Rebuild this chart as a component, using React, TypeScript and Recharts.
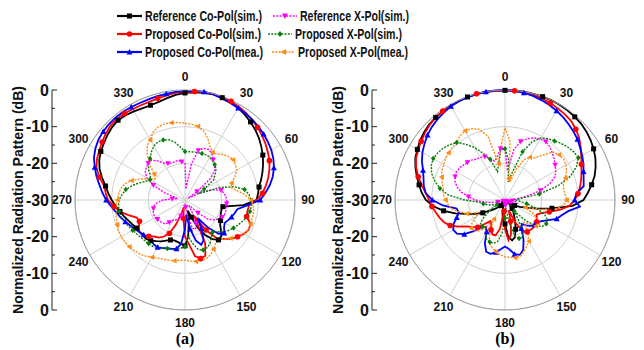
import React from 'react';
import { RadarChart, Radar, PolarGrid, PolarAngleAxis, PolarRadiusAxis, LineChart, Line, XAxis, YAxis } from 'recharts';

// angle (deg, clockwise from top)
const angles = [
  0, 5, 10, 15, 20, 25, 30, 35, 40, 45, 50, 55,
  60, 65, 70, 75, 80, 85, 90, 95, 100, 105, 110, 115,
  120, 125, 130, 135, 140, 145, 150, 155, 160, 165, 170, 175,
  180, 185, 190, 195, 200, 205, 210, 215, 220, 225, 230, 235,
  240, 245, 250, 255, 260, 265, 270, 275, 280, 285, 290, 295,
  300, 305, 310, 315, 320, 325, 330, 335, 340, 345, 350, 355,
];

// (a)
const aRefCo = [
  -0.8, -0.5, -0.3, -0.2, -0.3, -0.6, -1.0, -1.6, -2.2, -2.9, -3.7, -4.6,
  -5.5, -6.5, -7.5, -8.5, -9.5, -10.0, -10.5, -14.0, -19.5, -19.7, -19.6, -19.3,
  -18.8, -18.3, -17.2, -16.0, -15.8, -17.0, -19.0, -21.5, -25.0, -27.0, -24.0, -20.0,
  -17.5, -18.0, -18.4, -18.6, -18.4, -17.8, -17.0, -16.3, -15.5, -15.0, -15.0, -14.9,
  -14.7, -14.2, -13.6, -12.8, -12.0, -11.0, -10.0, -9.0, -8.0, -6.6, -5.2, -4.2,
  -3.5, -3.0, -2.4, -1.9, -1.6, -1.8, -2.1, -2.4, -2.5, -2.3, -1.8, -1.2,
];
const aPropCo = [
  -0.5, -0.3, -0.1, 0, -0.1, -0.3, -0.6, -1.0, -1.5, -2.0, -2.6, -3.2,
  -3.9, -4.6, -5.5, -6.5, -7.6, -8.8, -10.5, -12.5, -12.7, -12.6, -11.0, -10.8,
  -11.5, -12.5, -13.5, -15.0, -16.0, -20.0, -25.0, -17.0, -13.8, -13.5, -14.5, -18.0,
  -20.0, -25.0, -28.0, -26.0, -23.0, -20.0, -18.5, -17.5, -17.0, -16.0, -15.0, -14.8,
  -15.5, -16.3, -16.0, -14.0, -12.0, -10.5, -9.0, -8.3, -7.6, -5.8, -4.3, -3.5,
  -3.0, -2.4, -1.8, -1.3, -1.1, -1.2, -1.4, -1.5, -1.5, -1.3, -1.0, -0.7,
];
const aPropCoMea = [
  -0.3, -0.1, 0, -0.2, -0.5, -0.8, -1.0, -1.2, -1.4, -1.7, -2.0, -2.4,
  -2.8, -3.4, -4.2, -5.2, -6.5, -8.0, -9.5, -13.0, -15.5, -16.0, -16.5, -17.0,
  -17.5, -17.0, -16.0, -17.0, -20.0, -24.0, -21.0, -18.0, -17.0, -18.5, -22.0, -26.0,
  -22.0, -18.0, -16.5, -16.2, -16.0, -15.5, -15.1, -15.2, -15.5, -15.6, -15.3, -14.8,
  -14.2, -13.5, -12.7, -11.8, -10.9, -9.8, -8.5, -7.4, -6.3, -5.0, -3.8, -2.6,
  -1.8, -1.2, -0.9, -0.7, -0.6, -0.6, -0.7, -0.8, -0.8, -0.7, -0.6, -0.4,
];
const aRefX = [
  -20.0, -27.0, -20.0, -16.0, -15.0, -14.8, -15.3, -16.6, -17.5, -18.5, -21.0, -26.0,
  -29.0, -25.0, -21.8, -19.8, -19.2, -18.8, -18.6, -18.6, -18.6, -18.5, -18.5, -18.8,
  -19.5, -20.5, -22.0, -25.0, -28.0, -28.0, -26.0, -23.0, -21.5, -22.0, -25.0, -28.0,
  -29.0, -28.0, -27.0, -25.5, -24.5, -24.0, -23.7, -22.5, -21.5, -21.2, -21.0, -20.8,
  -20.6, -20.6, -20.8, -21.1, -21.5, -22.5, -24.0, -26.5, -28.0, -27.0, -24.0, -20.5,
  -18.0, -16.8, -16.2, -15.8, -15.8, -17.0, -18.4, -19.0, -19.3, -19.2, -19.0, -19.5,
];
const aPropX = [
  -16.8, -16.8, -16.7, -16.6, -16.5, -16.4, -16.5, -17.0, -17.4, -18.0, -19.3, -20.5,
  -24.0, -26.0, -20.0, -16.0, -13.5, -12.5, -12.0, -11.8, -12.0, -12.5, -13.2, -14.0,
  -14.7, -15.5, -16.5, -17.8, -18.4, -17.5, -16.3, -15.7, -15.5, -16.0, -18.0, -20.0,
  -17.3, -16.8, -16.3, -16.0, -15.9, -15.5, -15.0, -14.6, -14.5, -14.4, -14.2, -13.9,
  -13.5, -13.0, -12.5, -12.0, -11.8, -11.8, -12.0, -12.8, -13.6, -15.0, -16.5, -18.0,
  -19.0, -18.5, -17.0, -16.0, -15.2, -14.0, -13.0, -12.5, -12.6, -13.0, -14.0, -15.5,
];
const aPropXMea = [
  -9.1, -9.3, -9.6, -10.5, -12.0, -13.8, -15.0, -14.7, -13.8, -13.2, -12.9, -13.2,
  -13.7, -15.0, -16.5, -17.0, -15.5, -13.5, -12.0, -11.3, -11.0, -11.0, -11.0, -10.8,
  -11.5, -12.5, -13.8, -15.0, -16.0, -15.5, -14.5, -13.5, -13.0, -12.8, -13.0, -13.3,
  -13.6, -13.5, -13.2, -13.0, -12.8, -12.5, -12.0, -11.3, -10.8, -10.5, -10.2, -10.0,
  -9.9, -10.0, -10.3, -10.6, -10.9, -11.2, -11.5, -11.8, -12.2, -13.0, -14.5, -16.5,
  -18.5, -20.0, -19.0, -16.5, -14.0, -12.0, -11.0, -9.5, -8.8, -8.5, -8.6, -8.8,
];

// (b)
const bRefCo = [
  -0.1, 0, 0, 0, 0, 0, -0.1, -0.2, -0.4, -0.6, -1.0, -1.5,
  -2.1, -2.8, -3.7, -4.7, -6.0, -7.3, -8.6, -11.5, -17.0, -21.0, -24.0, -25.5,
  -27.0, -28.0, -28.5, -28.0, -27.0, -26.0, -25.0, -23.5, -21.5, -19.5, -18.8, -20.0,
  -23.5, -24.5, -26.0, -28.0, -29.0, -29.0, -29.0, -28.5, -28.0, -27.0, -26.0, -25.0,
  -23.0, -21.0, -19.0, -16.0, -13.0, -10.4, -8.4, -7.2, -6.2, -5.1, -4.0, -3.0,
  -2.4, -1.7, -1.2, -0.8, -0.6, -0.4, -0.3, -0.2, -0.1, -0.1, -0.1, -0.1,
];
const bPropCo = [
  -0.2, -0.1, -0.2, -0.3, -0.5, -0.8, -1.2, -1.5, -1.9, -2.7, -3.6, -4.8,
  -6.0, -7.0, -7.8, -8.5, -9.2, -10.0, -11.0, -12.3, -14.7, -17.5, -19.5, -20.5,
  -20.0, -19.5, -19.3, -19.2, -19.3, -19.4, -20.0, -23.0, -27.0, -24.0, -20.5, -19.0,
  -22.0, -27.0, -22.0, -20.0, -20.0, -21.0, -22.5, -23.0, -21.5, -19.5, -18.5, -17.5,
  -15.5, -13.5, -12.3, -11.5, -10.8, -10.0, -9.3, -8.3, -7.0, -5.5, -4.2, -3.2,
  -2.7, -2.1, -1.5, -1.0, -0.6, -0.4, -0.3, -0.2, -0.1, 0, 0, -0.1,
];
const bPropCoMea = [
  0, -0.1, -0.3, -0.6, -1.0, -1.4, -1.9, -2.4, -3.0, -3.6, -4.2, -5.0,
  -5.7, -6.4, -7.2, -7.8, -8.2, -10.5, -11.0, -9.5, -12.5, -14.0, -15.0, -17.0,
  -18.5, -19.3, -19.5, -20.0, -21.0, -22.0, -21.0, -18.0, -15.5, -14.5, -15.0, -16.5,
  -17.3, -16.5, -15.5, -14.8, -15.0, -17.0, -20.0, -21.0, -20.5, -18.0, -15.5, -14.0,
  -13.7, -14.5, -16.0, -17.0, -16.6, -13.0, -10.2, -8.3, -7.5, -7.0, -6.2, -5.0,
  -4.0, -3.2, -2.4, -1.8, -1.3, -0.9, -0.5, -0.3, -0.2, -0.1, 0, 0,
];
const bRefX = [
  -16.0, -22.0, -16.0, -13.5, -12.2, -11.3, -10.8, -10.6, -11.0, -11.8, -12.5, -13.3,
  -14.0, -15.0, -17.0, -20.0, -24.0, -27.0, -29.0, -28.0, -27.0, -26.5, -27.0, -28.5,
  -29.5, -29.5, -29.5, -29.5, -29.0, -28.5, -28.5, -29.0, -29.5, -29.5, -29.0, -28.5,
  -28.5, -29.0, -29.5, -29.5, -29.5, -29.5, -29.5, -29.5, -29.5, -29.5, -29.5, -29.5,
  -29.5, -29.5, -29.0, -28.0, -26.0, -24.0, -22.0, -20.0, -18.0, -16.5, -15.5, -15.0,
  -14.7, -14.8, -15.2, -15.5, -15.8, -16.4, -16.6, -17.0, -18.0, -19.0, -18.0, -16.0,
];
const bPropX = [
  -16.0, -19.0, -25.0, -22.0, -16.0, -12.5, -10.5, -9.6, -9.0, -8.2, -7.6, -7.1,
  -6.9, -8.5, -11.0, -15.0, -20.5, -26.0, -27.0, -26.0, -24.0, -21.0, -18.5, -17.2,
  -17.0, -17.5, -19.0, -22.0, -26.0, -24.0, -20.0, -18.8, -18.8, -20.0, -24.0, -28.0,
  -25.0, -21.0, -18.5, -17.8, -17.8, -18.2, -19.5, -21.0, -20.5, -20.4, -22.0, -25.0,
  -27.5, -27.0, -26.0, -25.0, -24.0, -23.0, -19.0, -14.5, -12.0, -10.2, -8.7, -7.8,
  -7.4, -7.6, -8.0, -8.7, -9.5, -11.5, -13.5, -16.0, -18.2, -22.0, -20.0, -16.5,
];
const bPropXMea = [
  -10.3, -14.0, -24.0, -25.0, -21.0, -18.0, -16.5, -16.0, -14.0, -11.5, -10.8, -10.5,
  -10.8, -11.5, -12.5, -13.5, -13.8, -13.5, -13.2, -14.0, -16.0, -20.0, -24.0, -22.0,
  -19.5, -18.5, -19.0, -21.0, -22.0, -19.0, -17.0, -16.0, -15.0, -14.0, -14.0, -14.3,
  -14.5, -15.0, -15.7, -16.5, -17.5, -20.0, -24.0, -21.0, -19.0, -18.0, -18.0, -19.0,
  -21.0, -22.0, -19.0, -17.3, -15.5, -14.5, -13.8, -13.2, -12.9, -12.3, -11.6, -11.0,
  -10.7, -10.3, -9.9, -9.7, -9.5, -8.6, -8.2, -8.5, -9.5, -12.0, -20.0, -16.0,
];

const dbTicks = [-30, -25, -20, -15, -10, -5, 0, 5, 10, 15, 20, 25, 30];
const spokeAngles = [0, 30, 60, 90, 120, 150, 180, 210, 240, 270, 300, 330];

const R = 110;
const SANS = 'Arial, "Liberation Sans", Helvetica, sans-serif';

type Shape = 'square' | 'circle' | 'up' | 'down' | 'diamond' | 'left';
interface SeriesDef { key: string; name: string; color: string; shape: Shape; dotted: boolean; offset: number }

const series: SeriesDef[] = [
  { key: 'refCo', name: 'Reference Co-Pol(sim.)', color: '#000000', shape: 'square', dotted: false, offset: 0 },
  { key: 'propCo', name: 'Proposed Co-Pol(sim.)', color: '#ff0000', shape: 'circle', dotted: false, offset: 1 },
  { key: 'propCoMea', name: 'Proposed Co-Pol(mea.)', color: '#0000ff', shape: 'up', dotted: false, offset: 2 },
  { key: 'refX', name: 'Reference X-Pol(sim.)', color: '#ff00ff', shape: 'down', dotted: true, offset: 3 },
  { key: 'propX', name: 'Proposed X-Pol(sim.)', color: '#0a7d0a', shape: 'diamond', dotted: true, offset: 0 },
  { key: 'propXMea', name: 'Proposed X-Pol(mea.)', color: '#ff8a14', shape: 'left', dotted: true, offset: 2 },
];

function buildRows(values: number[][]) {
  return angles.map((angle, i) => {
    const row: Record<string, number> = { angle };
    series.forEach((s, j) => { row[s.key] = values[j][i]; });
    return row;
  });
}

const rowsA = buildRows([aRefCo, aPropCo, aPropCoMea, aRefX, aPropX, aPropXMea]);
const rowsB = buildRows([bRefCo, bPropCo, bPropCoMea, bRefX, bPropX, bPropXMea]);
const axisRows = dbTicks.map(v => ({ v }));

function Marker({ shape, x, y, s, color }: { shape: Shape; x: number; y: number; s: number; color: string }) {
  const h = s / 2;
  switch (shape) {
    case 'square':
      return <rect x={x - h} y={y - h} width={s} height={s} fill={color} />;
    case 'circle':
      return <circle cx={x} cy={y} r={h + 0.3} fill={color} />;
    case 'up':
      return <polygon points={`${x},${y - h - 0.5} ${x - h - 0.5},${y + h} ${x + h + 0.5},${y + h}`} fill={color} />;
    case 'down':
      return <polygon points={`${x},${y + h + 0.5} ${x - h - 0.5},${y - h} ${x + h + 0.5},${y - h}`} fill={color} />;
    case 'diamond':
      return <polygon points={`${x},${y - h - 0.5} ${x + h},${y} ${x},${y + h + 0.5} ${x - h},${y}`} fill={color} />;
    default:
      return <polygon points={`${x - h - 0.5},${y} ${x + h},${y - h - 0.5} ${x + h},${y + h + 0.5}`} fill={color} />;
  }
}

const makeDot = (s: SeriesDef) => (p: any) => {
  if ((p.index - s.offset) % 4 !== 0) return <g key={`d-${p.index}`} />;
  return (
    <g key={`d-${p.index}`}>
      <Marker shape={s.shape} x={p.cx} y={p.cy} s={s.dotted ? 4.5 : 5} color={s.color} />
    </g>
  );
};

function AngleTick(props: any) {
  const { x, y, payload } = props;
  if (payload.value % 30 !== 0) return null;
  return (
    <text x={x} y={y} textAnchor="middle" dominantBaseline="central"
      fontFamily={SANS} fontSize={12} fontWeight="bold" fill="#111">
      {payload.value}
    </text>
  );
}

function PolarPlot({ data, cx }: { data: Record<string, number>[]; cx: number }) {
  return (
    <div style={{ position: 'absolute', left: cx - 150, top: 50, width: 300, height: 300 }}>
      <RadarChart width={300} height={300} cx={150} cy={150} outerRadius={R} data={data}
        margin={{ top: 0, right: 0, bottom: 0, left: 0 }}>
        <PolarGrid gridType="circle" polarAngles={spokeAngles} polarRadius={[R / 3, (2 * R) / 3, R]}
          stroke="#cfcfcf" strokeWidth={1} />
        <PolarAngleAxis dataKey="angle" tick={<AngleTick />} tickLine={false} tickSize={13}
          axisLine={{ stroke: '#a0a0a0' }} />
        <PolarRadiusAxis type="number" domain={[-30, 0]} allowDataOverflow tick={false} axisLine={false} />
        {series.map(s => (
          <Radar key={s.key} dataKey={s.key} stroke={s.color} fill="none" fillOpacity={0}
            strokeWidth={s.dotted ? 1.4 : 1.8} strokeDasharray={s.dotted ? '2 1.3' : undefined}
            dot={makeDot(s)} isAnimationActive={false} />
        ))}
      </RadarChart>
    </div>
  );
}

function DbTick(props: any) {
  const { x, y, payload } = props;
  const v = payload.value as number;
  const major = v % 10 === 0;
  return (
    <g>
      <line x1={x} x2={x + (major ? 5 : 3)} y1={y} y2={y} stroke="#222" strokeWidth={1} />
      {major && (
        <text x={x - 3} y={y} textAnchor="end" dominantBaseline="central"
          fontFamily={SANS} fontSize={16} fontWeight="bold" fill="#111">
          {Math.abs(v) - 30}
        </text>
      )}
    </g>
  );
}

function DbAxis({ left }: { left: number }) {
  return (
    <div style={{ position: 'absolute', left, top: 80, width: 62, height: 240 }}>
      <LineChart width={62} height={240} data={axisRows} margin={{ top: 10, right: 10, bottom: 10, left: 0 }}>
        <XAxis dataKey="v" hide />
        <YAxis type="number" domain={[-30, 30]} ticks={dbTicks} interval={0} width={52}
          tickSize={0} tickMargin={0} tickLine={false} axisLine={{ stroke: '#222' }} tick={<DbTick />} />
        <Line dataKey="v" stroke="none" dot={false} activeDot={false} isAnimationActive={false} />
      </LineChart>
    </div>
  );
}

function LegendRow({ s, x1, x2, tx, y, tl }: { s: SeriesDef; x1: number; x2: number; tx: number; y: number; tl: number }) {
  return (
    <g>
      <line x1={x1} x2={x2} y1={y} y2={y} stroke={s.color} strokeWidth={s.dotted ? 1.6 : 2.2}
        strokeDasharray={s.dotted ? '2 1.3' : undefined} />
      <Marker shape={s.shape} x={(x1 + x2) / 2} y={y} s={5} color={s.color} />
      <text x={tx} y={y} dominantBaseline="central" fontFamily={SANS} fontSize={14} fontWeight="bold"
        fill="#111" textLength={tl} lengthAdjust="spacingAndGlyphs">{s.name}</text>
    </g>
  );
}

export default function App() {
  return (
    <div style={{ position: 'absolute', left: 0, top: 0, width: 644, height: 350, background: '#fff', overflow: 'hidden' }}>
      <svg width={644} height={350} style={{ position: 'absolute', left: 0, top: 0 }}>
        <LegendRow s={series[0]} x1={117} x2={142} tx={145} y={16} tl={117} />
        <LegendRow s={series[1]} x1={117} x2={142} tx={145} y={34} tl={116} />
        <LegendRow s={series[2]} x1={117} x2={142} tx={145} y={52} tl={118} />
        <LegendRow s={series[3]} x1={273} x2={297} tx={300} y={16} tl={109} />
        <LegendRow s={series[4]} x1={268} x2={292} tx={295} y={34} tl={107} />
        <LegendRow s={series[5]} x1={272} x2={295} tx={298} y={52} tl={110} />
        {[18, 338].map(x => (
          <text key={x} x={x} y={200} transform={`rotate(-90 ${x} 200)`} textAnchor="middle"
            dominantBaseline="central" fontFamily={SANS} fontSize={14} fontWeight="bold" fill="#111"
            textLength={228} lengthAdjust="spacingAndGlyphs">
            Normalized Radiation Pattern (dB)
          </text>
        ))}
        <text x={185} y={338} textAnchor="middle" dominantBaseline="central"
          fontFamily="Liberation Serif, Times New Roman, serif" fontSize={16} fontWeight="bold">(a)</text>
        <text x={505} y={338} textAnchor="middle" dominantBaseline="central"
          fontFamily="Liberation Serif, Times New Roman, serif" fontSize={16} fontWeight="bold">(b)</text>
      </svg>
      <DbAxis left={0} />
      <DbAxis left={320} />
      <PolarPlot data={rowsA} cx={185} />
      <PolarPlot data={rowsB} cx={505} />
    </div>
  );
}
